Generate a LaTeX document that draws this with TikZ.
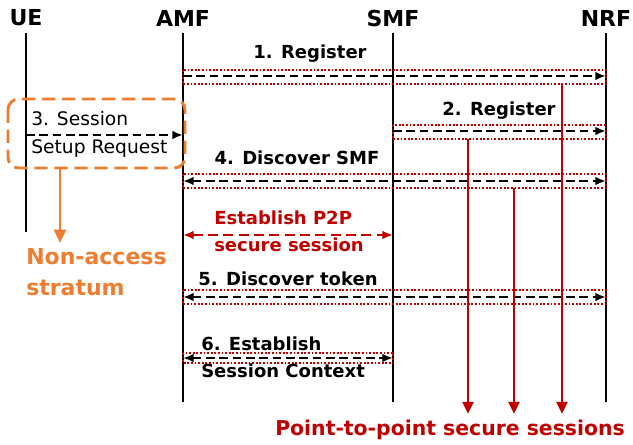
\documentclass[tikz,border=0pt]{standalone}
\usepackage{fontspec}
\setmainfont{DejaVu Sans}
\usetikzlibrary{arrows.meta}
\definecolor{nasorange}{HTML}{ED7D31}
\definecolor{p2pred}{HTML}{C00000}
\tikzstyle{head}     = [font=\bfseries\fontsize{16.5}{18}\selectfont, inner sep=0pt]
\tikzstyle{lbl}      = [font=\bfseries\fontsize{13.5}{20.5}\selectfont, inner sep=0pt, align=left]
\tikzstyle{body}     = [font=\fontsize{14}{20.5}\selectfont, inner sep=0pt, align=left]
\tikzstyle{life}     = [line width=1.9pt]
\tikzstyle{msg}      = [line width=1.6pt, dash pattern=on 6.5pt off 3.5pt, -{Latex[length=8pt,width=6.5pt]}]
\tikzstyle{duplex}   = [msg, {Latex[length=8pt,width=6.5pt]}-{Latex[length=8pt,width=6.5pt]}]
\tikzstyle{tunnel}   = [draw=p2pred, line width=1.6pt, dash pattern=on 1.4pt off 1.3pt]
\tikzstyle{p2p}      = [p2pred, line width=1.7pt, dash pattern=on 7.5pt off 4pt, {Latex[length=8pt,width=6.5pt]}-{Latex[length=8pt,width=6.5pt]}]
\tikzstyle{sess}     = [p2pred, line width=2pt, -{Triangle[length=9pt,width=8pt]}]
\tikzstyle{nasbox}   = [nasorange, line width=2.2pt, dash pattern=on 10pt off 5pt, rounded corners=8pt]
\tikzstyle{nasarrow} = [nasorange, line width=1.8pt, -{Triangle[length=10pt,width=9pt]}]

\begin{document}
\begin{tikzpicture}[x=0.75pt,y=-0.75pt]
  \useasboundingbox (0,0) rectangle (633,445);
  % lifelines
  \node[head] (ue)  at (26,18)  {UE};
  \node[head] (amf) at (183,18) {AMF};
  \node[head] (smf) at (393,18) {SMF};
  \node[head] (nrf) at (606,18) {NRF};
  \draw[life] (ue |- 0,33) -- (ue |- 0,232);
  \foreach \n in {amf,smf,nrf} {
    \draw[life] (\n |- 0,33) -- (\n |- 0,402);
  }
  % 1. register
  \draw[tunnel] (amf |- 0,70) rectangle (nrf |- 0,84);
  \draw[msg] (amf |- 0,76) -- (nrf |- 0,76);
  \node[lbl] (reg1) at (310,54) {1. Register};
  % 2. register
  \draw[tunnel] (smf |- 0,125) rectangle (nrf |- 0,139);
  \draw[msg] (smf |- 0,131) -- (nrf |- 0,131);
  \node[lbl] (reg2) at (499,111) {2. Register};
  % 3. session setup (non-access stratum)
  \draw[nasbox] (8,99) rectangle (185,168);
  \draw[msg] (ue |- 0,135) -- (amf |- 0,135);
  \node[body, anchor=west] (setup) at (31,134.5) {3. Session\\Setup Request};
  \node[font=\bfseries\fontsize{16.5}{23}\selectfont, text=nasorange, inner sep=0pt, align=left, anchor=west] (nas) at (26,272) {Non-access\\stratum};
  \draw[nasarrow] (60,168) -- (60,243);
  % 4. discover smf
  \draw[tunnel] (amf |- 0,174) rectangle (nrf |- 0,188);
  \draw[duplex] (amf |- 0,181) -- (nrf |- 0,181);
  \node[lbl] (disc) at (297,158) {4. Discover SMF};
  % p2p session
  \draw[p2p] (amf |- 0,235) -- (smf |- 0,235);
  \node[lbl, text=p2pred, anchor=west] (est) at (214,231) {Establish P2P\\secure session};
  % 5. discover token
  \draw[tunnel] (amf |- 0,290) rectangle (nrf |- 0,304);
  \draw[duplex] (amf |- 0,297) -- (nrf |- 0,297);
  \node[lbl] (tok) at (288,279) {5. Discover token};
  % 6. session context
  \draw[tunnel] (amf |- 0,353) rectangle (smf |- 0,363);
  \draw[duplex] (amf |- 0,358) -- (smf |- 0,358);
  \node[lbl, anchor=west] (ctx) at (201,357) {6. Establish\\Session Context};
  % secure sessions
  \node[font=\bfseries\fontsize{15.3}{18}\selectfont, text=p2pred, inner sep=0pt] (pts) at (450,430) {Point-to-point secure sessions};
  \draw[sess] (468,139) -- (468,414);
  \draw[sess] (514,188) -- (514,414);
  \draw[sess] (562,84) -- (562,414);
\end{tikzpicture}
\end{document}
